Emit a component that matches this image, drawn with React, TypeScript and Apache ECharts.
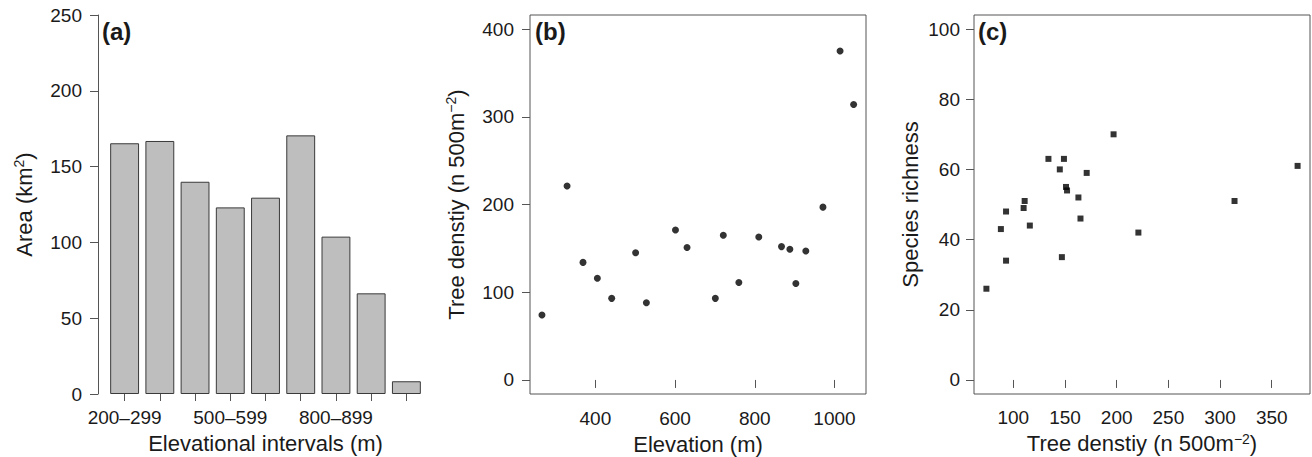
import React, { useEffect, useRef } from "react";
import * as echarts from "echarts";

const barCategories = ["200–299", "300–399", "400–499", "500–599", "600–699", "700–799", "800–899", "900–999", "1000–1099"];
const barAreas = [165.4, 166.9, 140.0, 123.1, 129.5, 170.6, 103.8, 66.4, 8.4];

const elevation = [266, 329, 369, 405, 441, 501, 528, 601, 630, 701, 721, 760, 810, 867, 888, 903, 928, 971, 1014, 1048];
const densityB = [74, 221, 134, 116, 93, 145, 88, 171, 151, 93, 165, 111, 163, 152, 149, 110, 147, 197, 375, 314];

const densityC = [74, 88, 93, 93, 110, 111, 116, 134, 145, 147, 149, 151, 152, 163, 165, 171, 197, 221, 314, 375];
const richness = [26, 43, 48, 34, 49, 51, 44, 63, 60, 35, 63, 55, 54, 52, 46, 59, 70, 42, 51, 61];

const ticksBX = [400, 600, 800, 1000];
const ticksBY = [0, 100, 200, 300, 400];
const ticksCX = [100, 150, 200, 250, 300, 350];
const ticksCY = [0, 20, 40, 60, 80, 100];

const FONT = "'Liberation Sans', Arial, sans-serif";
const TXT = "#1a1a1a";
const AX = "#555555";

const plain = (v: number) => String(v);
const tickLabel = { fontSize: 19, color: TXT, fontFamily: FONT, formatter: plain };
const nameStyle = {
  fontSize: 22,
  color: TXT,
  fontFamily: FONT,
  lineHeight: 24,
  rich: {
    sup: { fontSize: 14, verticalAlign: "top", lineHeight: 14, color: TXT, fontFamily: FONT },
  },
};

export default function App() {
  const ref = useRef<HTMLDivElement>(null);
  useEffect(() => {
    if (!ref.current) return;
    const chart = echarts.init(ref.current, null, { renderer: "svg" });
    const axisLine = { show: true, lineStyle: { color: AX, width: 1 } };
    const tick = { show: true, length: 8, lineStyle: { color: AX, width: 1 } };
    chart.setOption({
      animation: false,
      backgroundColor: "#ffffff",
      grid: [
        { left: 107, top: 15, width: 317, height: 379, show: false, containLabel: false, outerBoundsMode: "none" },
        { left: 530, top: 15, width: 336, height: 379, show: true, borderColor: AX, borderWidth: 1, backgroundColor: "transparent", containLabel: false, outerBoundsMode: "none" },
        { left: 974, top: 15, width: 336, height: 379, show: true, borderColor: AX, borderWidth: 1, backgroundColor: "transparent", containLabel: false, outerBoundsMode: "none" },
      ],
      xAxis: [
        {
          gridIndex: 0,
          type: "category",
          data: barCategories,
          offset: 1,
          axisLine: { show: false },
          axisTick: { show: true, alignWithLabel: true, interval: 0, length: 7, lineStyle: { color: AX } },
          axisLabel: { fontSize: 19, color: TXT, fontFamily: FONT, interval: 2, margin: 13 },
          name: "Elevational intervals (m)",
          nameLocation: "middle",
          nameGap: 35,
          nameTextStyle: nameStyle,
        },
        {
          gridIndex: 1,
          type: "value",
          min: 236,
          max: 1079,
          axisLine: { show: false },
          axisTick: { ...tick, customValues: ticksBX },
          axisLabel: { ...tickLabel, customValues: ticksBX, margin: 15 },
          splitLine: { show: false },
          name: "Elevation (m)",
          nameLocation: "middle",
          nameGap: 36,
          nameTextStyle: nameStyle,
        },
        {
          gridIndex: 2,
          type: "value",
          min: 62,
          max: 387,
          axisLine: { show: false },
          axisTick: { ...tick, customValues: ticksCX },
          axisLabel: { ...tickLabel, customValues: ticksCX, margin: 14 },
          splitLine: { show: false },
          name: "Tree denstiy (n 500m{sup|−2})",
          nameLocation: "middle",
          nameGap: 30,
          nameTextStyle: nameStyle,
        },
      ],
      yAxis: [
        {
          gridIndex: 0,
          type: "value",
          min: 0,
          max: 250,
          interval: 50,
          offset: 9,
          axisLine,
          axisTick: tick,
          axisLabel: { ...tickLabel, margin: 16 },
          splitLine: { show: false },
          name: "Area (km{sup|2})",
          nameLocation: "middle",
          nameGap: 62,
          nameTextStyle: nameStyle,
        },
        {
          gridIndex: 1,
          type: "value",
          min: -16,
          max: 416,
          axisLine: { show: false },
          axisTick: { ...tick, customValues: ticksBY },
          axisLabel: { ...tickLabel, customValues: ticksBY, margin: 16 },
          splitLine: { show: false },
          name: "Tree denstiy (n 500m{sup|−2})",
          nameLocation: "middle",
          nameGap: 62,
          nameTextStyle: nameStyle,
        },
        {
          gridIndex: 2,
          type: "value",
          min: -4,
          max: 104,
          axisLine: { show: false },
          axisTick: { ...tick, customValues: ticksCY },
          axisLabel: { ...tickLabel, customValues: ticksCY, margin: 14 },
          splitLine: { show: false },
          name: "Species richness",
          nameLocation: "middle",
          nameGap: 52,
          nameTextStyle: nameStyle,
        },
      ],
      series: [
        {
          type: "bar",
          xAxisIndex: 0,
          yAxisIndex: 0,
          data: barAreas,
          barCategoryGap: "18%",
          itemStyle: { color: "#bebebe", borderColor: "#3a3a3a", borderWidth: 1 },
        },
        {
          type: "scatter",
          xAxisIndex: 1,
          yAxisIndex: 1,
          data: elevation.map((e, i) => [e, densityB[i]]),
          symbol: "circle",
          symbolSize: 7,
          itemStyle: { color: "#000000" },
        },
        {
          type: "scatter",
          xAxisIndex: 2,
          yAxisIndex: 2,
          data: densityC.map((d, i) => [d, richness[i]]),
          symbol: "rect",
          symbolSize: 6,
          itemStyle: { color: "#000000" },
        },
      ],
      graphic: [
        { type: "text", left: 102, top: 19, style: { text: "(a)", fontSize: 24, fontWeight: "bold", fontFamily: FONT, fill: TXT } },
        { type: "text", left: 535, top: 19, style: { text: "(b)", fontSize: 24, fontWeight: "bold", fontFamily: FONT, fill: TXT } },
        { type: "text", left: 978, top: 19, style: { text: "(c)", fontSize: 24, fontWeight: "bold", fontFamily: FONT, fill: TXT } },
      ],
    });
    return () => chart.dispose();
  }, []);
  return (
    <div
      ref={ref}
      style={{ position: "fixed", left: 0, top: 0, width: 1312, height: 457, background: "#fff" }}
    />
  );
}
